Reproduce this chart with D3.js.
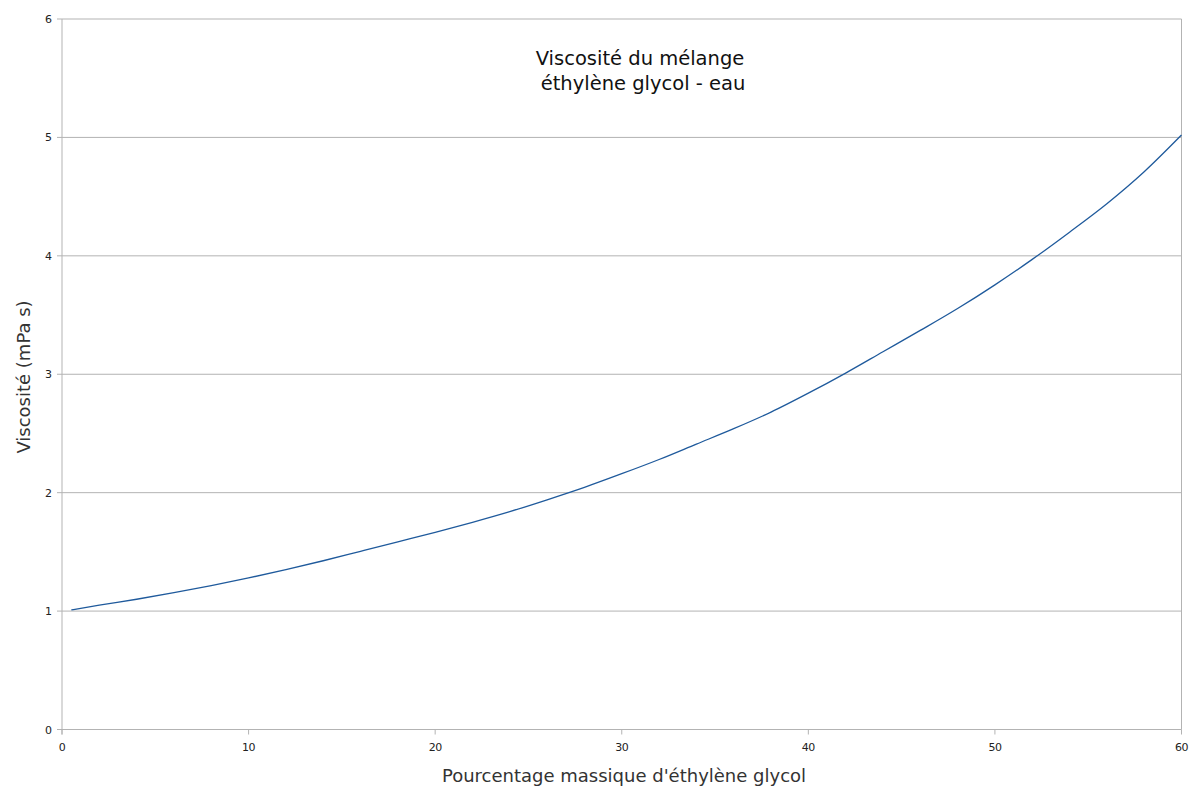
<!DOCTYPE html>
<html><head><meta charset="utf-8">
<script src="https://cdn.jsdelivr.net/npm/d3@7"></script>
<style>body{margin:0;background:#fff}svg{display:block}</style>
</head><body>
<script>
const massPercent = [0.5,2,4,6,8,10,12,14,16,18,20,22,24,26,28,30,32,34,36,38,40,42,44,46,48,50,52,54,56,58,60];
const viscosity = [1.01,1.05,1.10,1.155,1.215,1.28,1.35,1.425,1.505,1.585,1.665,1.75,1.84,1.94,2.045,2.16,2.28,2.41,2.54,2.68,2.84,3.01,3.19,3.37,3.555,3.755,3.97,4.20,4.44,4.71,5.02];
const xTicks = [0,10,20,30,40,50,60];
const yTicks = [0,1,2,3,4,5,6];
const titleLines = ["Viscosité du mélange","éthylène glycol - eau"];
const xTitle = "Pourcentage massique d'éthylène glycol";
const yTitle = "Viscosité (mPa s)";

const W=1200,H=797;
const L=62,R=1181.5,T=19,B=729.5;
const svg=d3.select("body").append("svg").attr("width",W).attr("height",H);
const x=d3.scaleLinear().domain([0,60]).range([L,R]);
const y=d3.scaleLinear().domain([0,6]).range([B,T]);
const grid="#b3b3b3";

// gridlines
svg.append("g").selectAll("line").data(yTicks).join("line")
 .attr("x1",L-5).attr("x2",R).attr("y1",d=>y(d)).attr("y2",d=>y(d))
 .attr("stroke",grid).attr("stroke-width",1);
// left axis & right border
svg.append("line").attr("x1",L).attr("x2",L).attr("y1",T).attr("y2",B+5).attr("stroke",grid);
svg.append("line").attr("x1",R).attr("x2",R).attr("y1",T).attr("y2",B).attr("stroke",grid);
// x ticks
svg.append("g").selectAll("line").data(xTicks).join("line")
 .attr("x1",d=>x(d)).attr("x2",d=>x(d)).attr("y1",B).attr("y2",B+5).attr("stroke",grid);
// tick labels
svg.append("g").selectAll("text").data(yTicks).join("text")
 .attr("x",L-10).attr("y",d=>y(d)+4).attr("text-anchor","end")
 .attr("font-family","DejaVu Sans").attr("font-size",11).attr("fill","#222").text(d=>d);
svg.append("g").selectAll("text").data(xTicks).join("text")
 .attr("x",d=>x(d)).attr("y",B+21).attr("text-anchor","middle")
 .attr("font-family","DejaVu Sans").attr("font-size",11).attr("fill","#222").attr("letter-spacing","-0.5").text(d=>d);

// line
const data=massPercent.map((m,i)=>[m,viscosity[i]]);
svg.append("path").datum(data)
 .attr("d",d3.line().x(d=>x(d[0])).y(d=>y(d[1])).curve(d3.curveMonotoneX))
 .attr("fill","none").attr("stroke","#1f5a9c").attr("stroke-width",1.3);

// title
const tt=svg.append("text").attr("font-family","DejaVu Sans").attr("font-size",19.5)
 .attr("fill","#111").attr("text-anchor","middle");
tt.selectAll("tspan").data(titleLines).join("tspan")
 .attr("x",(d,i)=>i===0?640:643).attr("y",(d,i)=>65+i*25).text(d=>d);

// axis titles
svg.append("text").attr("x",624).attr("y",782).attr("text-anchor","middle")
 .attr("font-family","DejaVu Sans").attr("font-size",18).attr("fill","#333").text(xTitle);
svg.append("text").attr("transform","translate(30,377) rotate(-90)").attr("text-anchor","middle")
 .attr("font-family","DejaVu Sans").attr("font-size",18).attr("fill","#333").text(yTitle);
</script>
</body></html>
